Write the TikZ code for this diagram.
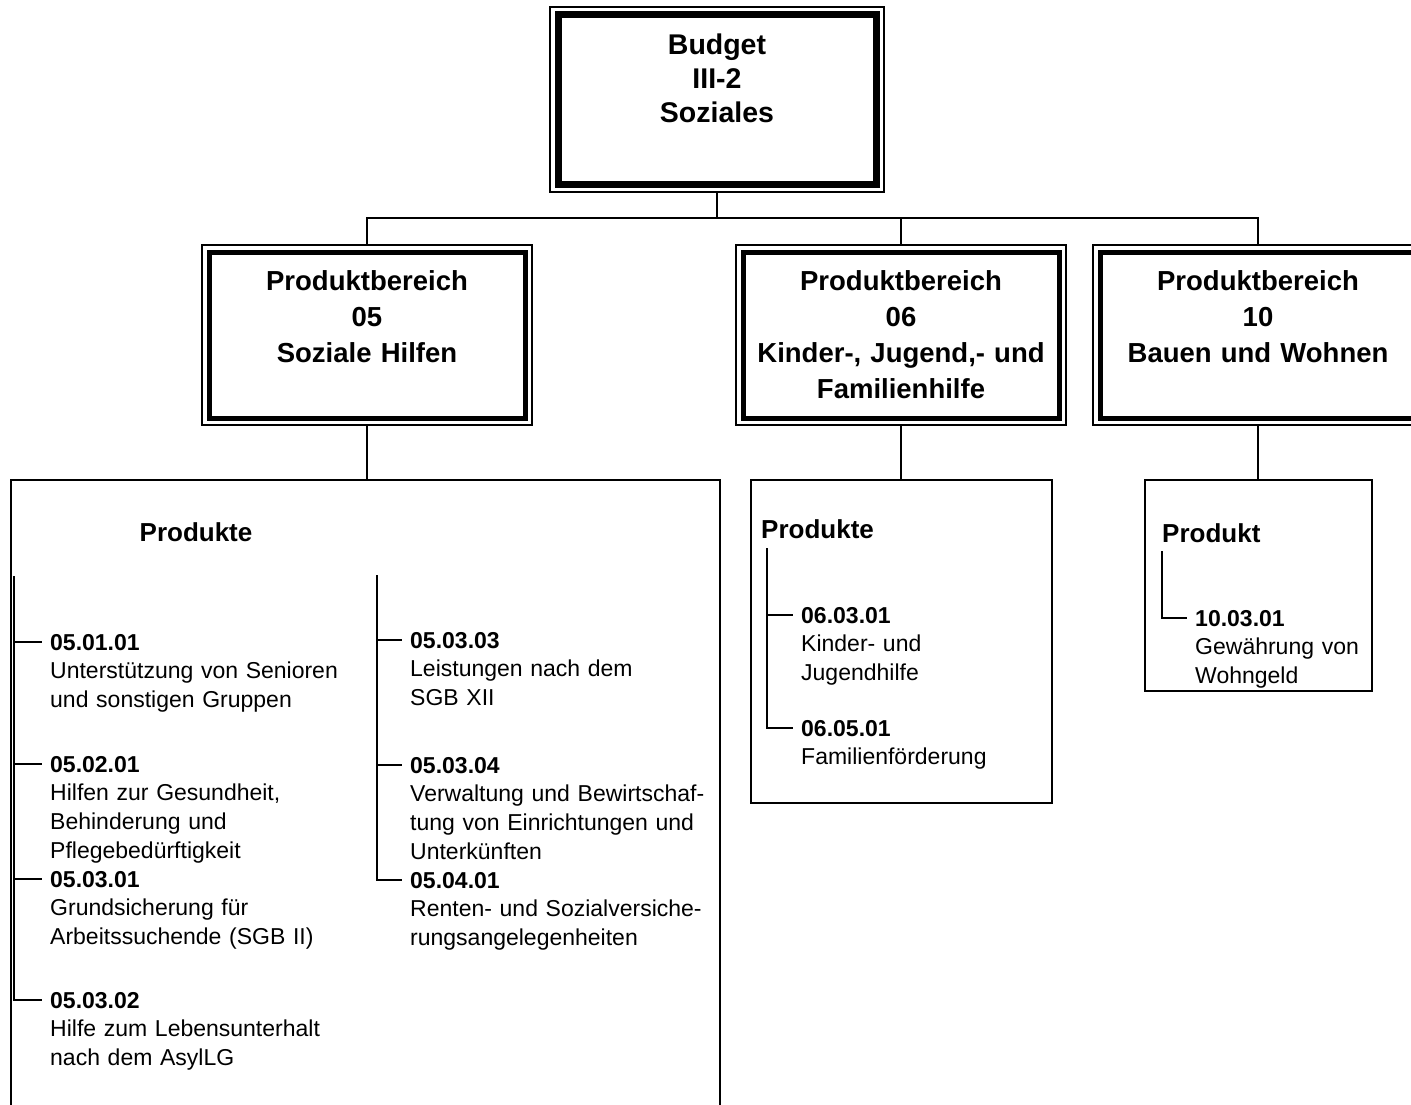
\documentclass[tikz,border=0pt]{standalone}
\usepackage{fontspec}
\setmainfont{Liberation Sans}
\newcommand{\bereichfont}{\fontsize{27.5pt}{36pt}\selectfont\bfseries}
\newcommand{\produktfont}{\fontsize{23pt}{28.7pt}\selectfont}
\tikzset{
  rahmen/.style={draw, line width=1.5pt, outer sep=0pt, inner sep=0pt},
  dick/.style={line width=5pt},
  titel/.style={font=\bereichfont, text width=310pt, align=center, anchor=base, inner sep=0pt},
  kasten/.style={draw, line width=2pt, outer sep=0pt, inner sep=0pt, anchor=north west},
  kopf/.style={font=\fontsize{26pt}{30pt}\selectfont\bfseries, inner sep=0pt},
  nr/.style={font=\produktfont\bfseries, anchor=base west, inner xsep=8pt, inner ysep=0pt, text height=16pt, text depth=0pt},
  txt/.style={font=\produktfont, anchor=base west, inner xsep=8pt, inner ysep=0pt, text width=320pt, align=left},
  baum/.style={line width=2pt},
  verb/.style={line width=1.5pt}
}
\begin{document}
\begin{tikzpicture}[x=1pt, y=-1pt]
\useasboundingbox (0,0) rectangle (1411,1105);
\clip (0,0) rectangle (1411,1105);
% Budget
\node[rahmen, minimum width=334pt, minimum height=185pt] (budget) at (717,99.5) {};
\draw[line width=7pt] ([shift={(8pt,-8pt)}]budget.north west) rectangle ([shift={(-8pt,8pt)}]budget.south east);
\node[titel, font=\fontsize{28.5pt}{34pt}\selectfont\bfseries] (tbudget) at (717,55) {Budget\\III-2\\Soziales};
\coordinate (bus) at (717,218);
\draw[verb] (budget.south) -- (bus);
% Produktbereiche
\foreach \n/\x/\t in {05/367/{Produktbereich\\05\\Soziale Hilfen},
    06/901/{Produktbereich\\06\\Kinder-, Jugend,- und\\Familienhilfe},
    10/1258/{Produktbereich\\10\\Bauen und Wohnen}}
{
    \node[rahmen, minimum width=330pt, minimum height=180pt] (b\n) at (\x,335) {};
    \draw[dick] ([shift={(7pt,-7pt)}]b\n.north west) rectangle ([shift={(-7pt,7pt)}]b\n.south east);
    \node[titel] (t\n) at (\x,290) {\t};
    \draw[verb] (bus) -| (b\n.north);
}
% Produkte
\node[kasten, minimum width=709pt, minimum height=700pt] (prodA) at (11,480) {};
\node[kasten, minimum width=301pt, minimum height=323pt] (prodB) at (751,480) {};
\node[kasten, minimum width=227pt, minimum height=211pt] (prodC) at (1145,480) {};
\draw[verb] (b05.south) -- (b05.south |- prodA.north);
\draw[verb] (b06.south) -- (b06.south |- prodB.north);
\draw[verb] (b10.south) -- (b10.south |- prodC.north);
\node[kopf, anchor=base] (hA) at (196,541) {Produkte};
\node[kopf, anchor=base west] (hB) at (761,538) {Produkte};
\node[kopf, anchor=base west] (hC) at (1162,542) {Produkt};

\node[nr] (p050101) at (42,650) {05.01.01};
\node[txt] (d050101) at ([yshift=-28.7pt]p050101.base west) {Unterstützung von Senioren\\und sonstigen Gruppen};
\node[nr] (p050201) at (42,772) {05.02.01};
\node[txt] (d050201) at ([yshift=-28.7pt]p050201.base west) {Hilfen zur Gesundheit,\\Behinderung und\\Pflegebedürftigkeit};
\node[nr] (p050301) at (42,887) {05.03.01};
\node[txt] (d050301) at ([yshift=-28.7pt]p050301.base west) {Grundsicherung für\\Arbeitssuchende (SGB II)};
\node[nr] (p050302) at (42,1008) {05.03.02};
\node[txt] (d050302) at ([yshift=-28.7pt]p050302.base west) {Hilfe zum Lebensunterhalt\\nach dem AsylLG};

\node[nr] (p050303) at (402,648) {05.03.03};
\node[txt] (d050303) at ([yshift=-28.7pt]p050303.base west) {Leistungen nach dem\\SGB XII};
\node[nr] (p050304) at (402,773) {05.03.04};
\node[txt] (d050304) at ([yshift=-28.7pt]p050304.base west) {Verwaltung und Bewirtschaf-\\tung von Einrichtungen und\\Unterkünften};
\node[nr] (p050401) at (402,888) {05.04.01};
\node[txt] (d050401) at ([yshift=-28.7pt]p050401.base west) {Renten- und Sozialversiche-\\rungsangelegenheiten};

\node[nr] (p060301) at (793,623) {06.03.01};
\node[txt] (d060301) at ([yshift=-28.7pt]p060301.base west) {Kinder- und\\Jugendhilfe};
\node[nr] (p060501) at (793,736) {06.05.01};
\node[txt] (d060501) at ([yshift=-28.7pt]p060501.base west) {Familienförderung};

\node[nr] (p100301) at (1187,626) {10.03.01};
\node[txt] (d100301) at ([yshift=-28.7pt]p100301.base west) {Gewährung von\\Wohngeld};
% Baumlinien
\coordinate (tA) at (14,576);
\coordinate (tA2) at (377,575);
\coordinate (tB) at (767,548);
\coordinate (tC) at (1162,551);
\foreach \p in {p050101,p050201,p050301,p050302}
    \draw[baum] (tA) |- (\p.west);
\foreach \p in {p050303,p050304,p050401}
    \draw[baum] (tA2) |- (\p.west);
\foreach \p in {p060301,p060501}
    \draw[baum] (tB) |- (\p.west);
\draw[baum] (tC) |- (p100301.west);
\end{tikzpicture}
\end{document}
